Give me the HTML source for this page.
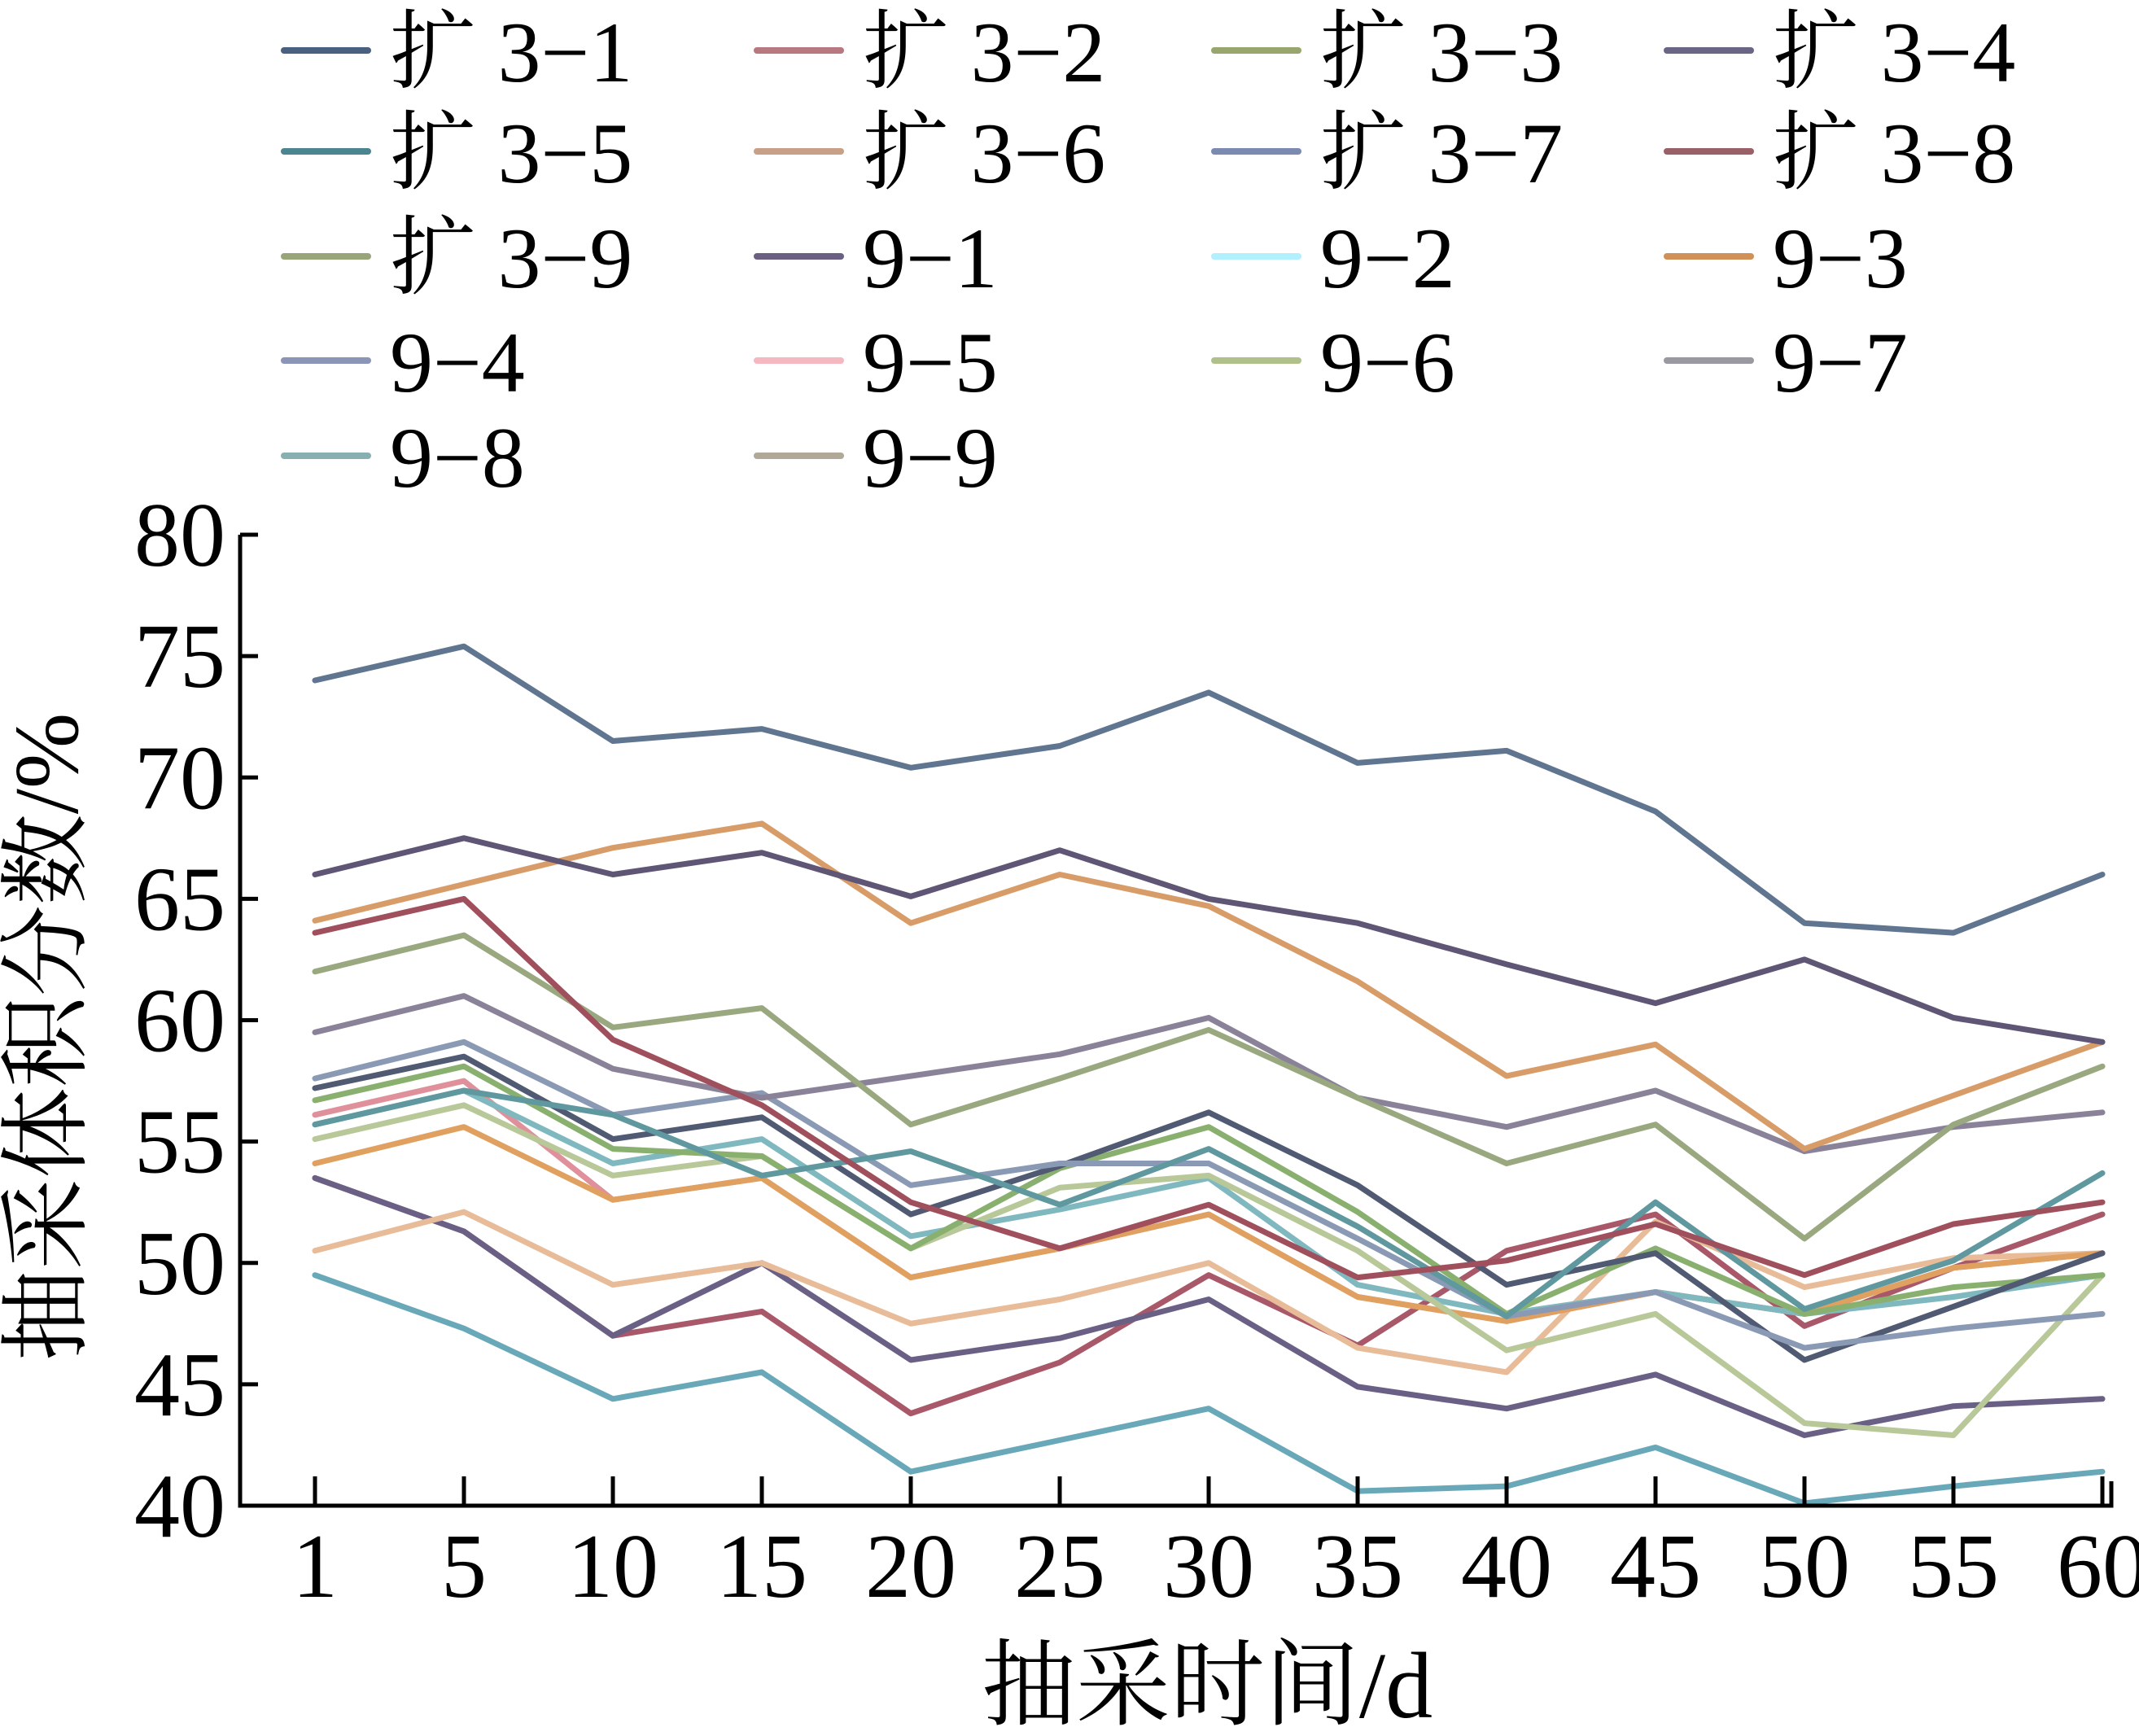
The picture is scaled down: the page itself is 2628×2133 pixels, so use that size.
<!DOCTYPE html>
<html><head><meta charset="utf-8"><style>
html,body{margin:0;padding:0;background:#fff;}
svg{display:block;}
text{font-family:"Liberation Serif","Noto Serif CJK SC",serif;fill:#000;}
</style></head><body>
<svg id="chart" width="2628" height="2133" viewBox="0 0 2628 2133" xmlns="http://www.w3.org/2000/svg">
<g id="legend"></g>
<g id="plot"></g>
<g id="axes"></g>
<text x="1483" y="2110" font-size="116" text-anchor="middle">抽采时间/d</text>
<text x="0" y="0" font-size="112" text-anchor="middle" transform="translate(95,1274) rotate(-90)">抽采体积分数/%</text>
</svg>
<script>
const categories = ["1","5","10","15","20","25","30","35","40","45","50","55","60"];
const yTicks = [40,45,50,55,60,65,70,75,80];
const seriesNames = ["扩 3−1","扩 3−2","扩 3−3","扩 3−4","扩 3−5","扩 3−6","扩 3−7","扩 3−8","扩 3−9","9−1","9−2","9−3","9−4","9−5","9−6","9−7","9−8","9−9"];
const seriesColors = ["#5f7590","#e0909a","#8ab070","#505a72","#6098a0","#e8bc98","#8a9ab5","#a0505c","#9aa880","#5f5575","#68a8b8","#d89c68","#6a6085","#a85868","#b8c898","#8a8298","#80b8c0","#e0a060"];
const legendColors = ["#4a6080","#b8787f","#98a56c","#6b6585","#4a8590","#c8a088","#7a8ab0","#9a6068","#98a578","#6b5f82","#b0f0ff","#d09058","#8a95b8","#f5b8c0","#b0c08a","#9a98a0","#88b0b0","#b0a898"];
const s_k31 = [74,75.4,71.5,72,70.4,71.3,73.5,70.6,71.1,68.6,64,63.6,66];
const s_k32 = [56.1,57.5,52.6,53.5,49.4,50.6,52,48.6,47.6,48.8,47.9,49.8,50.4];
const s_k33 = [56.7,58.1,54.7,54.4,50.6,53.9,55.6,52.1,47.9,50.6,47.9,49,49.5];
const s_k34 = [57.2,58.5,55.1,56,52,54,56.2,53.2,49.1,50.4,46,48.2,50.4];
const s_k35 = [55.7,57.1,56.1,53.6,54.6,52.4,54.7,51.5,47.8,52.5,48.1,50.1,53.7];
const s_k36 = [50.5,52.1,49.1,50,47.5,48.5,50,46.5,45.5,51.7,49,50.2,50.4];
const s_k37 = [57.6,59.1,56.1,57,53.2,54.1,54.1,51,47.8,48.8,46.5,47.3,47.9];
const s_k38 = [63.6,65,59.2,56.5,52.5,50.6,52.4,49.4,50.1,51.6,49.5,51.6,52.5];
const s_k39 = [62,63.5,59.7,60.5,55.7,57.6,59.6,56.8,54.1,55.7,51,55.7,58.1];
const s_91 = [66,67.5,66,66.9,65.1,67,65,64,62.3,60.7,62.5,60.1,59.1];
const s_92 = [49.5,47.3,44.4,45.5,41.4,42.7,44,40.6,40.8,42.4,40.1,40.8,41.4];
const s_93 = [64.1,65.6,67.1,68.1,64,66,64.7,61.6,57.7,59,54.7,56.9,59.1];
const s_94 = [53.5,51.3,47,50,46,46.9,48.5,44.9,44,45.4,42.9,44.1,44.4];
const s_95 = [53.5,51.3,47,48,43.8,45.9,49.5,46.6,50.5,52,47.4,49.8,52];
const s_96 = [55.1,56.5,53.6,54.4,50.6,53.1,53.6,50.5,46.4,47.9,43.4,42.9,49.5];
const s_97 = [59.5,61,58,56.8,57.7,58.6,60.1,56.8,55.6,57.1,54.6,55.6,56.2];
const s_98 = [55.7,57.1,54.1,55.1,51.1,52.2,53.5,49.1,47.9,48.8,47.9,48.6,49.5];
const s_99 = [54.1,55.6,52.6,53.5,49.4,50.6,52,48.6,47.6,48.8,47.9,49.8,50.4];
const seriesValues = [s_k31,s_k32,s_k33,s_k34,s_k35,s_k36,s_k37,s_k38,s_k39,s_91,s_92,s_93,s_94,s_95,s_96,s_97,s_98,s_99];

const NS="http://www.w3.org/2000/svg";
const X0=295,X1=2594,Y0=1850,Y1=657,CX0=387,CX1=2583,YMIN=40,YMAX=80;
function xPos(i){return CX0+(CX1-CX0)*i/(categories.length-1);}
function yPos(v){return Y0-(v-YMIN)/(YMAX-YMIN)*(Y0-Y1);}
function mk(tag,attrs,parent){const e=document.createElementNS(NS,tag);for(const k in attrs)e.setAttribute(k,attrs[k]);parent.appendChild(e);return e;}
const plot=document.getElementById('plot'),axes=document.getElementById('axes'),legend=document.getElementById('legend');
const order=[10,13,12,5,1,17,16,14,2,3,6,4,15,8,7,11,9,0];
order.forEach(si=>{
  const pts=seriesValues[si].map((v,i)=>xPos(i).toFixed(1)+","+yPos(v).toFixed(1)).join(" ");
  const pl=mk('polyline',{points:pts,fill:'none',stroke:seriesColors[si],'stroke-width':7,'stroke-linejoin':'round','stroke-linecap':'round'},plot);
  
  
});
const ax=mk('path',{d:`M${X0},${Y1} V${Y0} H${X1} V${Y0-30}`,fill:'none',stroke:'#000','stroke-width':5},axes);


yTicks.forEach(t=>{
  const y=yPos(t);
  const tk=mk('line',{x1:X0,x2:X0+22,y1:y,y2:y,stroke:'#000','stroke-width':5},axes);
  
  
  const tx=mk('text',{x:X0-18,y:y+38,'font-size':112,'text-anchor':'end'},axes);
  tx.textContent=t;
  
  
});
categories.forEach((c,i)=>{
  const x=xPos(i);
  const tk=mk('line',{x1:x,x2:x,y1:Y0,y2:Y0-36,stroke:'#000','stroke-width':5},axes);
  
  
  const tx=mk('text',{x:x,y:Y0+112,'font-size':112,'text-anchor':'middle'},axes);
  tx.textContent=c;
  
  
});
const colX=[349,930,1492,2048],rowY=[62,186,315,443,560];
seriesNames.forEach((n,i)=>{
  const cx=colX[i%4],cy=rowY[Math.floor(i/4)];
  const g=mk('g',{},legend);
  
  
  mk('line',{x1:cx,x2:cx+103,y1:cy,y2:cy,stroke:legendColors[i],'stroke-width':8,'stroke-linecap':'round'},g);
  const t=mk('text',{x:cx+130,y:cy+38,'font-size':106},g);
  t.textContent=n;
});
</script>
</body></html>
